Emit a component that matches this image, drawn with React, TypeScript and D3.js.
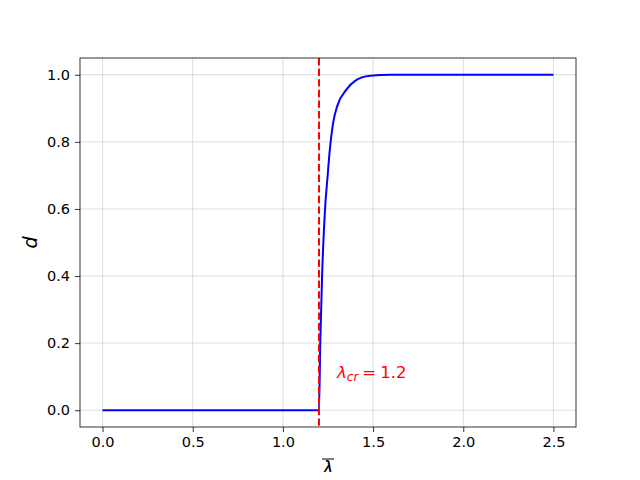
import React, { useEffect, useRef } from 'react';
import * as d3 from 'd3';

// curve
const lambdaValues = [0, 0.5, 1.0, 1.2, 1.207, 1.217, 1.233, 1.248, 1.257, 1.279, 1.302, 1.354, 1.4, 1.483, 1.6, 2.0, 2.5];
const dValues = [0, 0, 0, 0, 0.199, 0.397, 0.595, 0.699, 0.759, 0.858, 0.908, 0.957, 0.982, 0.997, 1.0, 1.0, 1.0];
const xTicks = [0, 0.5, 1.0, 1.5, 2.0, 2.5];
const yTicks = [0, 0.2, 0.4, 0.6, 0.8, 1.0];
const lambdaCr = 1.2;

const App = () => {
  const svgRef = useRef<SVGSVGElement>(null);

  useEffect(() => {
    const svg = d3.select(svgRef.current);
    svg.selectAll('*').remove();

    const left = 80, right = 576, top = 58, bottom = 427;
    const font = 'DejaVu Sans, sans-serif';

    const x = d3.scaleLinear().domain([-0.125, 2.625]).range([left, right]);
    const y = d3.scaleLinear().domain([-0.05, 1.05]).range([bottom, top]);

    svg.append('rect').attr('width', 640).attr('height', 480).attr('fill', '#fff');

    // grid
    const grid = svg.append('g').attr('stroke', '#b0b0b0').attr('stroke-opacity', 0.55).attr('stroke-width', 0.8);
    xTicks.forEach((t) => {
      grid.append('line').attr('x1', x(t)).attr('x2', x(t)).attr('y1', top).attr('y2', bottom);
    });
    yTicks.forEach((t) => {
      grid.append('line').attr('x1', left).attr('x2', right).attr('y1', y(t)).attr('y2', y(t));
    });

    const pts = lambdaValues.map((l, i) => [l, dValues[i]] as [number, number]);
    const lineGen = d3
      .line<[number, number]>()
      .x((d) => x(d[0]))
      .y((d) => y(d[1]))
      .curve(d3.curveMonotoneX);

    svg
      .append('path')
      .datum(pts)
      .attr('fill', 'none')
      .attr('stroke', '#0000ff')
      .attr('stroke-width', 2)
      .attr('d', lineGen);

    svg
      .append('line')
      .attr('x1', x(lambdaCr))
      .attr('x2', x(lambdaCr))
      .attr('y1', top)
      .attr('y2', bottom)
      .attr('stroke', '#ff0000')
      .attr('stroke-width', 2)
      .attr('stroke-dasharray', '7.4,3.2');

    // axes
    const xAxis = svg
      .append('g')
      .attr('transform', `translate(0,${bottom})`)
      .call(d3.axisBottom(x).tickValues(xTicks).tickFormat(d3.format('.1f')).tickSizeOuter(0).tickSize(5).tickPadding(5));
    const yAxis = svg
      .append('g')
      .attr('transform', `translate(${left},0)`)
      .call(d3.axisLeft(y).tickValues(yTicks).tickFormat(d3.format('.1f')).tickSizeOuter(0).tickSize(5).tickPadding(5));
    [xAxis, yAxis].forEach((a) => {
      a.select('.domain').remove();
      a.selectAll('text').attr('font-family', font).attr('font-size', 14.5).attr('fill', '#000');
      a.selectAll('line').attr('stroke', '#000').attr('stroke-width', 0.8);
    });

    svg
      .append('rect')
      .attr('x', left)
      .attr('y', top)
      .attr('width', right - left)
      .attr('height', bottom - top)
      .attr('fill', 'none')
      .attr('stroke', '#000')
      .attr('stroke-width', 0.8);

    // annotation
    const ann = svg
      .append('text')
      .attr('x', x(1.3))
      .attr('y', y(0.1) + 1)
      .attr('font-family', font)
      .attr('font-size', 16.5)
      .attr('fill', '#ff0000');
    ann.append('tspan').attr('font-style', 'italic').text('λ');
    ann.append('tspan').attr('font-style', 'italic').attr('font-size', 12).attr('dy', 3).text('cr');
    ann.append('tspan').attr('dy', -3).attr('dx', 4).text('=');
    ann.append('tspan').attr('dx', 4).text('1.2');

    // axis labels
    svg
      .append('text')
      .attr('x', (left + right) / 2)
      .attr('y', 475)
      .attr('text-anchor', 'middle')
      .attr('font-family', font)
      .attr('font-size', 19)
      .attr('font-style', 'italic')
      .text('λ');
    svg
      .append('line')
      .attr('x1', (left + right) / 2 - 6)
      .attr('x2', (left + right) / 2 + 6)
      .attr('y1', 459)
      .attr('y2', 459)
      .attr('stroke', '#000')
      .attr('stroke-width', 1);

    svg
      .append('text')
      .attr('transform', `translate(37,${(top + bottom) / 2}) rotate(-90)`)
      .attr('text-anchor', 'middle')
      .attr('font-family', font)
      .attr('font-size', 19)
      .attr('font-style', 'italic')
      .text('d');
  }, []);

  return <svg ref={svgRef} width={640} height={480} style={{ display: 'block', margin: -8 }} />;
};

export default App;
